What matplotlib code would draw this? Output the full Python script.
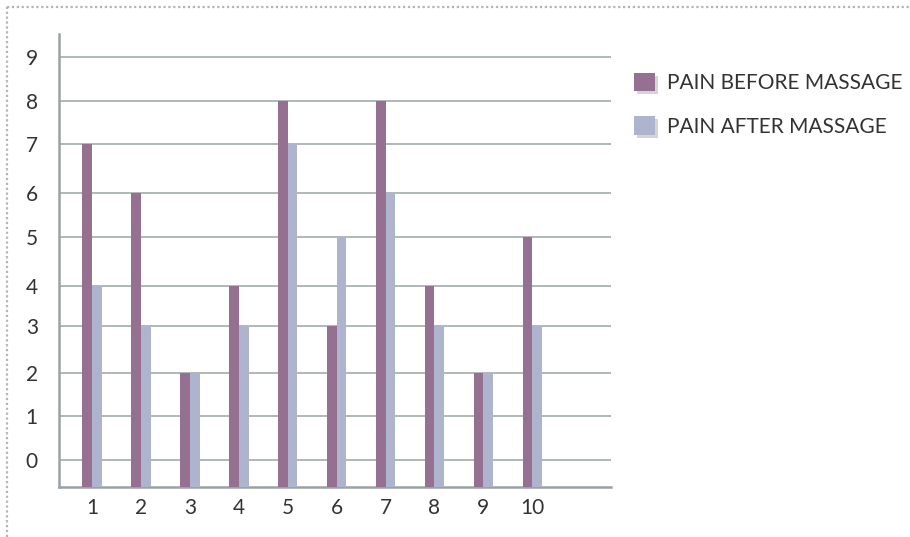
import numpy as np
import matplotlib
matplotlib.use("Agg")
import matplotlib.pyplot as plt
from matplotlib.lines import Line2D
from matplotlib import patheffects as pe

# Data
sessions = ["1", "2", "3", "4", "5", "6", "7", "8", "9", "10"]
pain_before = [7, 6, 2, 4, 8, 3, 8, 4, 2, 5]
pain_after = [4, 3, 2, 3, 7, 5, 6, 3, 2, 3]
y_ticks = [0, 1, 2, 3, 4, 5, 6, 7, 8, 9]
series_labels = ["PAIN BEFORE MASSAGE", "PAIN AFTER MASSAGE"]

# Styling
c_before = "#957090"
c_after = "#AEB4CE"
c_grid = "#A3ABAE"
c_text = "#333333"
plt.rcParams["font.family"] = ["Lato", "DejaVu Sans"]

# Uneven vertical spacing of the value grid (screen units from the baseline)
knot_v = np.array([-0.614, 0, 1, 2, 3, 4, 5, 6, 7, 8, 9, 9.545])
knot_p = np.array([0, 27, 71.3, 114, 161, 201, 250, 294, 343, 386, 430, 454])


def fwd(v):
    v = np.asarray(v, dtype=float)
    out = np.interp(v, knot_v, knot_p)
    lo = v < knot_v[0]
    hi = v > knot_v[-1]
    out = np.where(lo, knot_p[0] + (v - knot_v[0]) * 44.0, out)
    out = np.where(hi, knot_p[-1] + (v - knot_v[-1]) * 44.0, out)
    return out


def inv(p):
    p = np.asarray(p, dtype=float)
    out = np.interp(p, knot_p, knot_v)
    lo = p < knot_p[0]
    hi = p > knot_p[-1]
    out = np.where(lo, knot_v[0] + (p - knot_p[0]) / 44.0, out)
    out = np.where(hi, knot_v[-1] + (p - knot_p[-1]) / 44.0, out)
    return out


fig = plt.figure(figsize=(9.1, 5.37), dpi=100)
ax = fig.add_axes([0.0645, 0.0926, 0.607, 0.845])
ax.set_yscale("function", functions=(fwd, inv))

x = np.arange(1, len(sessions) + 1)
w = 0.2
base = knot_v[0]
b1 = ax.bar(x - w / 2, np.array(pain_before) - base, width=w, bottom=base,
            color=c_before, label=series_labels[0], zorder=3)
b2 = ax.bar(x + w / 2, np.array(pain_after) - base, width=w, bottom=base,
            color=c_after, label=series_labels[1], zorder=3)

ax.set_xlim(0.32, 11.61)
ax.set_ylim(knot_v[0], knot_v[-1])
ax.set_yticks(y_ticks)
ax.set_yticklabels([str(t) for t in y_ticks])
ax.set_xticks(x)
ax.set_xticklabels(sessions)
ax.yaxis.grid(True, color=c_grid, linewidth=1.2)
ax.set_axisbelow(True)
ax.tick_params(axis="both", length=0, labelsize=15, colors=c_text)
ax.tick_params(axis="y", pad=15)
ax.tick_params(axis="x", pad=8)

for s in ["top", "right"]:
    ax.spines[s].set_visible(False)
for s in ["left", "bottom"]:
    ax.spines[s].set_color("#9AA1A5")
    ax.spines[s].set_linewidth(1.8)

leg = ax.legend(handles=[b1, b2], loc="upper left",
                bbox_to_anchor=(0.697, 0.8645), bbox_transform=fig.transFigure,
                frameon=False, fontsize=15, handlelength=1.0, handleheight=1.0,
                handletextpad=0.58, labelspacing=1.1, borderaxespad=0,
                borderpad=0)
for t in leg.get_texts():
    t.set_color(c_text)
for h in leg.legend_handles:
    h.set_path_effects([pe.SimplePatchShadow(offset=(2, -2), shadow_rgbFace="#888888", alpha=0.35),
                        pe.Normal()])

# dotted frame along the top and left edges
fig.add_artist(Line2D([0.0073, 1.0], [0.9876, 0.9876], transform=fig.transFigure,
                      color="#B0B5B8", linestyle=(0, (1, 1.2)), linewidth=1.6))
fig.add_artist(Line2D([0.0073, 0.0073], [0.0, 0.9876], transform=fig.transFigure,
                      color="#B0B5B8", linestyle=(0, (1, 1.2)), linewidth=1.6))

fig.savefig("out.png", dpi=100)
